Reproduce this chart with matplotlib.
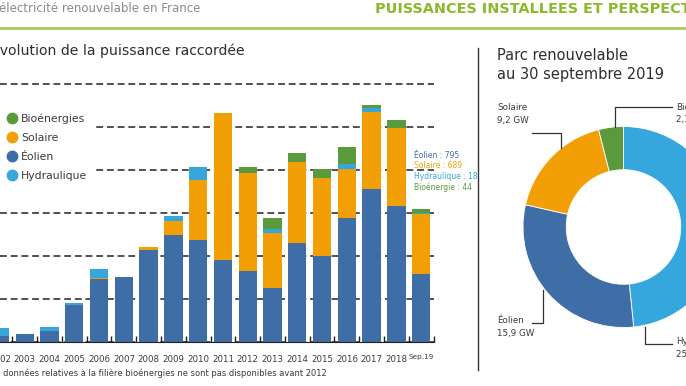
import numpy as np
import matplotlib.pyplot as plt
from matplotlib.lines import Line2D

# Puissance raccordée par année (MW)
annees = ['2002', '2003', '2004', '2005', '2006', '2007', '2008', '2009', '2010',
          '2011', '2012', '2013', '2014', '2015', '2016', '2017', '2018', 'Sep.19']
eolien = [70, 90, 130, 430, 730, 760, 1070, 1240, 1190, 950, 820, 625, 1150, 1000, 1440, 1780, 1580, 795]
solaire = [0, 0, 0, 0, 10, 0, 30, 170, 690, 1710, 1150, 640, 940, 910, 570, 895, 905, 689]
hydraulique = [90, 0, 45, 20, 110, 0, 0, 55, 155, 0, 0, 45, 0, 0, 60, 45, 0, 18]
bioenergies = [0, 0, 0, 0, 0, 0, 0, 0, 0, 0, 60, 135, 110, 100, 195, 30, 95, 44]

# Parc au 30 septembre 2019 (GW)
parc_noms = ['Hydraulique', 'Éolien', 'Solaire', 'Bioénergies']
parc_gw = [25.5, 15.9, 9.2, 2.1]

c_eol = '#3f6ea6'
c_sol = '#f29f05'
c_hyd = '#35a7dd'
c_bio = '#5a9a3c'
gris = '#3a3a3a'

W, H = 686, 386
fig = plt.figure(figsize=(W / 100, H / 100), dpi=100)


def fx(x):
    return x / W


def fy(y):
    return 1 - y / H


# --- histogramme empilé ---
ax = fig.add_axes([0, fy(342), fx(433.6), (342 - 75.4) / H])
x = np.arange(len(annees))
eol = np.array(eolien)
sol = np.array(solaire)
hyd = np.array(hydraulique)
bio = np.array(bioenergies)
larg = 0.74
ax.bar(x, eol, larg, color=c_eol, zorder=2)
ax.bar(x, sol, larg, bottom=eol, color=c_sol, zorder=2)
ax.bar(x, hyd, larg, bottom=eol + sol, color=c_hyd, zorder=2)
ax.bar(x, bio, larg, bottom=eol + sol + hyd, color=c_bio, zorder=2)

ax.set_xlim(0.278, 17.5)
ax.set_ylim(0, 3100)
ax.set_yticks(np.arange(0, 3001, 500))
ax.yaxis.grid(True, color='#222222', linestyle=(0, (4.5, 2.5)), linewidth=1.1, zorder=1)
ax.tick_params(axis='y', length=0, labelleft=False)
ax.set_xticks(x)
ax.set_xticklabels(annees, fontsize=6.2, color=gris)
ax.get_xticklabels()[-1].set_fontsize(5.2)
ax.set_xticks(x + 0.5, minor=True)
ax.tick_params(axis='x', which='major', length=0, pad=9)
ax.tick_params(axis='x', which='minor', direction='in', length=4.5, width=1, color='#222222')
for s in ['top', 'right', 'left']:
    ax.spines[s].set_visible(False)
ax.spines['bottom'].set_color('#222222')
ax.spines['bottom'].set_linewidth(0.8)
ax.set_facecolor('none')

# légende
poignees = [Line2D([], [], marker='o', ls='', color=c, markersize=7.5, label=n)
            for c, n in [(c_bio, 'Bioénergies'), (c_sol, 'Solaire'),
                         (c_eol, 'Éolien'), (c_hyd, 'Hydraulique')]]
fig.legend(handles=poignees, loc='upper left', bbox_to_anchor=(fx(-2), fy(106.5)),
           frameon=True, facecolor='white', edgecolor='none', framealpha=1,
           fontsize=7.8, labelcolor=gris, handletextpad=0.1, labelspacing=0.84,
           borderpad=0.6, handlelength=1.4, borderaxespad=0)

# détail sep.19
details = [(f'Éolien : {eolien[-1]}', c_eol), (f'Solaire : {solaire[-1]}', c_sol),
           (f'Hydraulique : {hydraulique[-1]}', c_hyd), (f'Bioénergie : {bioenergies[-1]}', c_bio)]
for k, (t, c) in enumerate(details):
    fig.text(fx(414), fy(155 + 10.8 * k), t, color=c, fontsize=5.5, va='center')

# --- anneau ---
ax2 = fig.add_axes([fx(523), fy(327.5), 201 / W, 201 / H])
ax2.pie(parc_gw, colors=[c_hyd, c_eol, c_sol, c_bio], startangle=90, counterclock=False,
        radius=1, wedgeprops=dict(width=0.43, edgecolor='white', linewidth=0.6))
ax2.set_xlim(-1, 1)
ax2.set_ylim(-1, 1)
ax2.axis('off')

# --- habillage ---
ov = fig.add_axes([0, 0, 1, 1], zorder=5)
ov.set_xlim(0, W)
ov.set_ylim(H, 0)
ov.axis('off')

ov.text(-1, 9, 'électricité renouvelable en France', color='#8a8a8a', fontsize=8.5, va='center')
ov.text(375, 9, 'PUISSANCES INSTALLEES ET PERSPECTIVES', color='#8cb82b', fontsize=10.4,
        fontweight='bold', va='center', family=['Liberation Sans Narrow', 'DejaVu Sans'])
ov.plot([0, W], [27.5, 27.5], color='#a9c95e', lw=2)
ov.text(-9, 50, 'Évolution de la puissance raccordée', color='#2e2e2e', fontsize=10.1, va='center')
ov.text(3, 373, 'données relatives à la filière bioénergies ne sont pas disponibles avant 2012',
        color=gris, fontsize=6, va='center')

ov.plot([478, 478], [48, 370], color='#333333', lw=1)
ov.text(497, 65, 'Parc renouvelable\nau 30 septembre 2019', color='#2e2e2e', fontsize=10.5,
        va='center', linespacing=1.3)

etiq = [(497, 114, 'Solaire\n9,2 GW', [(532, 133), (561, 133), (561, 148)]),
        (497, 327, 'Éolien\n15,9 GW', [(532, 323), (543, 323), (543, 290)]),
        (676, 113, 'Bioénergies\n2,1 GW', [(615, 127), (615, 106.5), (672, 106.5)]),
        (676, 348, 'Hydraulique\n25,5 GW', [(645, 327), (645, 344), (672, 344)])]
for tx, ty, t, pts in etiq:
    ov.text(tx, ty, t, color=gris, fontsize=6.3, va='center', linespacing=1.5)
    xs, ys = zip(*pts)
    ov.plot(xs, ys, color='#333333', lw=0.9)

fig.savefig('out.png', dpi=100)
